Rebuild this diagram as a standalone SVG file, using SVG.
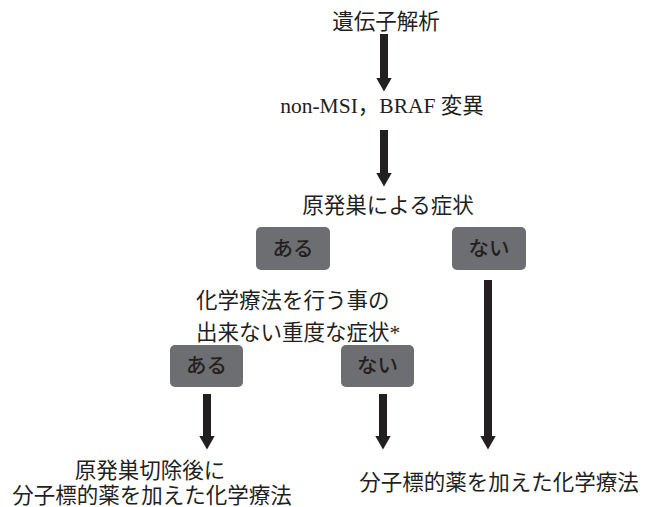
<svg xmlns="http://www.w3.org/2000/svg" width="646" height="507" viewBox="0 0 646 507">
  <defs>
    <marker id="head" viewBox="0 0 14 16" markerWidth="14" markerHeight="16" refX="0.5" refY="8" orient="auto" markerUnits="userSpaceOnUse">
      <path d="M0,0 L14,8 L0,16 Z" fill="#231f20"/>
    </marker>
    <style>
      .t { font-family: "Liberation Serif", "Noto Sans CJK JP", serif; font-size: 21.5px; fill: #231f20; text-anchor: middle; }
      .ts { font-family: "Liberation Serif", "Noto Sans CJK JP", serif; font-size: 21.5px; fill: #231f20; text-anchor: start; }
      .box { fill: #6d6e71; }
      .bt { font-family: "Noto Sans CJK JP", "Noto Sans", sans-serif; font-size: 20.5px; font-weight: 500; fill: #231f20; text-anchor: middle; }
      .arr { stroke: #231f20; stroke-width: 8; fill: none; marker-end: url(#head); }
    </style>
  </defs>
  <rect width="646" height="507" fill="#ffffff"/>

  <g id="connectors">
    <line class="arr" x1="384" y1="34" x2="384" y2="78"/>
    <line class="arr" x1="384" y1="130" x2="384" y2="173"/>
    <line class="arr" x1="488" y1="280" x2="488" y2="436"/>
    <line class="arr" x1="207" y1="394" x2="207" y2="436"/>
    <line class="arr" x1="383" y1="394" x2="383" y2="436"/>
  </g>

  <g id="genetic">
    <text class="t" x="386" y="29">遺伝子解析</text>
  </g>
  <g id="braf">
    <text class="t" x="382" y="113">non-MSI，BRAF 変異</text>
  </g>
  <g id="primary-symptom">
    <text class="t" x="388" y="213">原発巣による症状</text>
  </g>
  <g id="yes1">
    <rect class="box" x="256" y="227" width="74" height="43" rx="5"/>
    <text class="bt" x="293" y="256">ある</text>
  </g>
  <g id="no1">
    <rect class="box" x="452" y="227" width="74" height="43" rx="5"/>
    <text class="bt" x="489" y="256">ない</text>
  </g>
  <g id="severe">
    <text class="ts" x="196" y="308">化学療法を行う事の</text>
    <text class="ts" x="196" y="340">出来ない重度な症状*</text>
  </g>
  <g id="yes2">
    <rect class="box" x="170" y="345" width="73" height="42" rx="5"/>
    <text class="bt" x="206.5" y="373">ある</text>
  </g>
  <g id="no2">
    <rect class="box" x="341" y="345" width="73" height="42" rx="5"/>
    <text class="bt" x="377.5" y="373">ない</text>
  </g>
  <g id="resection">
    <text class="t" x="150" y="478">原発巣切除後に</text>
    <text class="t" x="152" y="503">分子標的薬を加えた化学療法</text>
  </g>
  <g id="chemo">
    <text class="t" x="499" y="490">分子標的薬を加えた化学療法</text>
  </g>
</svg>
